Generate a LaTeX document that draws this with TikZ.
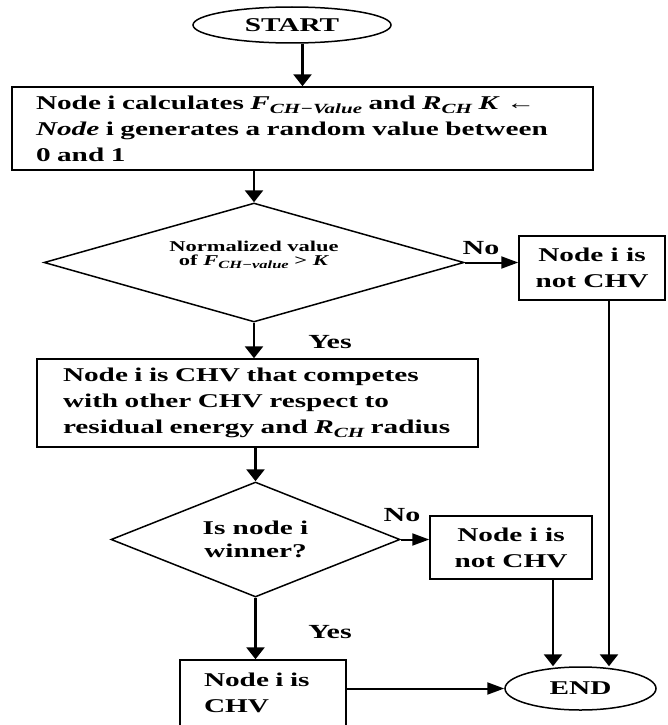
\documentclass[tikz,border=0pt]{standalone}
\usepackage{fontspec}
\setmainfont{Liberation Serif}[FakeStretch=1.5]
\usetikzlibrary{shapes.geometric,arrows.meta}
\newcommand\subx[1]{\raisebox{-0.45ex}{\fontsize{14}{14}\selectfont\itshape #1}}
\newcommand\subs[1]{\raisebox{-0.45ex}{\fontsize{11}{11}\selectfont\itshape #1}}
\begin{document}
\begin{tikzpicture}[x=1pt,y=-1pt,
  txt/.style={font=\bfseries\fontsize{19.5}{26}\selectfont},
  box/.style={txt,draw,line width=1.5pt,rectangle,inner sep=0pt},
  term/.style={txt,draw,line width=1.5pt,ellipse,inner sep=0pt},
  dec/.style={txt,draw,line width=1.5pt,diamond,inner sep=0pt,aspect=3,align=center},
  lbl/.style={font=\bfseries\fontsize{20}{22}\selectfont,inner sep=0pt},
  varr/.style={line width=2.8pt,-{Triangle[length=12pt,width=18pt]}},
  harr/.style={line width=2pt,-{Triangle[length=17pt,width=12pt]}}
]
\clip (0,0) rectangle (668,725);
\fill[white] (0,0) rectangle (668,725);

\node[term,minimum width=198pt,minimum height=36pt] (start) at (292,25) {START};

\node[box,minimum height=83pt,inner xsep=24pt,text width=533pt,align=left] (b1) at (302.5,128.5)
  {Node i calculates \textit{F}\subx{CH−Value} and \textit{R}\subx{CH} \textit{K} ←\\
   \textit{Node} i generates a random value between\\
   0 and 1};

\node[dec,minimum width=420pt,minimum height=119pt,font=\bfseries\fontsize{15}{14}\selectfont] (d1) at (254,262.5)
  {Normalized value\\ of \textit{F}\subs{CH−value} > \textit{K}\\[4pt]};

\node[box,minimum width=146pt,minimum height=64pt,align=center] (b2) at (592,268)
  {Node i is\\ not CHV};

\node[box,minimum height=88pt,inner xsep=26pt,text width=389pt,align=left] (b3) at (257.5,403)
  {Node i is CHV that competes\\
   with other CHV respect to\\
   residual energy and \textit{R}\subx{CH} radius};

\node[dec,minimum width=289pt,minimum height=115pt,font=\bfseries\fontsize{19.5}{23}\selectfont] (d2) at (255.5,539.5)
  {Is node i\\ winner?};

\node[box,minimum width=162pt,minimum height=63pt,align=center] (b4) at (511,547.5)
  {Node i is\\ not CHV};

\node[box,minimum height=66pt,inner xsep=24pt,text width=118pt,align=left] (b5) at (263,693)
  {Node i is\\ CHV};

\node[term,minimum width=151pt,minimum height=43pt] (end) at (580.5,688.5) {END};

\node[lbl] (no1) at (481,248) {No};
\node[lbl] (yes1) at (330,342) {Yes};
\node[lbl] (no2) at (402,515) {No};
\node[lbl] (yes2) at (330,632) {Yes};

\draw[varr] (b1.north |- start.south) -- (b1.north);
\draw[varr] (d1.north |- b1.south) -- (d1.north);
\draw[harr] (d1.east) -- (d1.east -| b2.west);
\draw[varr] ([xshift=17pt]b2.south) -- ([xshift=17pt]b2.south |- end.north);
\draw[varr] (d1.south) -- (d1.south |- b3.north);
\draw[varr] (d2.north |- b3.south) -- (d2.north);
\draw[harr] (d2.east) -- (d2.east -| b4.west);
\draw[varr] ([xshift=42pt]b4.south) -- ([xshift=42pt]b4.south |- end.north);
\draw[varr] (d2.south) -- (d2.south |- b5.north);
\draw[harr] (b5.east |- end.west) -- (end.west);
\end{tikzpicture}
\end{document}
